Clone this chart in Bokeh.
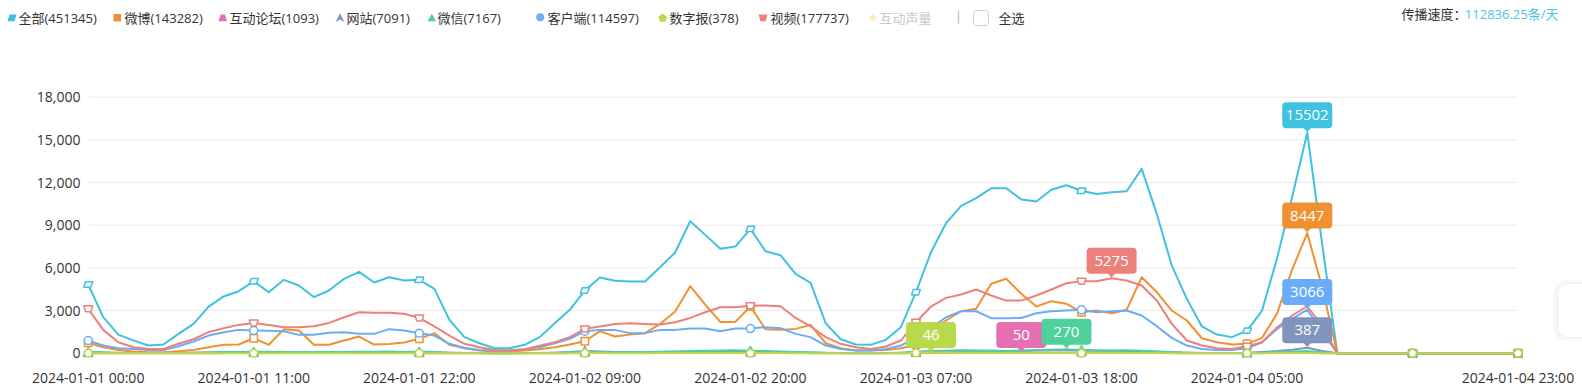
import math
import pandas as pd
from bokeh.plotting import figure
from bokeh.layouts import column
from bokeh.models import Range1d, FixedTicker, NumeralTickFormatter
from bokeh.core.properties import value
from bokeh.embed import file_html
from bokeh.resources import INLINE

# ---------------- data ----------------
hours = pd.date_range("2024-01-01 00:00", periods=96, freq="h").strftime("%Y-%m-%d %H:%M").tolist()
x_idx = list(range(len(hours)))
tick_idx = [0, 11, 22, 33, 44, 55, 66, 77, 95]
symbol_idx = [0, 11, 22, 33, 44, 55, 66, 77, 88, 95]
y_ticks = [0, 3000, 6000, 9000, 12000, 15000, 18000]

all_vals = [4830, 2530, 1310, 900, 540, 610, 1360, 2060, 3280, 3990,
            4360, 5060, 4290, 5160, 4760, 3940, 4410, 5230, 5720, 4970,
            5340, 5110, 5160, 4520, 2340, 1130, 700, 350, 350, 590,
            1130, 2110, 3050, 4410, 5320, 5090, 5040, 5040, 6050, 7080,
            9280, 8320, 7340, 7500, 8740, 7170, 6890, 5580, 4950, 2110,
            985, 610, 590, 940, 1830, 4290, 7100, 9140, 10360, 10900,
            11600, 11600, 10810, 10670, 11490, 11810, 11420, 11200, 11320, 11390,
            12960, 9800, 6160, 3820, 1880, 1310, 1130, 1590, 3000, 6700,
            11000, 15502, 7600] + [0] * 13
weibo_vals = [730, 420, 230, 120, 70, 70, 140, 230, 420, 590,
              610, 1050, 590, 1690, 1590, 590, 590, 890, 1170, 610,
              650, 750, 1010, 1410, 590, 350, 190, 120, 120, 190,
              280, 420, 610, 840, 1550, 1170, 1310, 1410, 2060, 2930,
              4710, 3420, 2200, 2200, 3280, 1690, 1640, 1710, 1990, 700,
              350, 190, 190, 230, 350, 600, 1600, 2300, 2950, 3120,
              4880, 5230, 4180, 3280, 3660, 3470, 2880, 3000, 2810, 3050,
              5340, 4300, 3000, 2300, 1050, 770, 610, 660, 1080, 2800,
              5900, 8447, 4600] + [0] * 13
forum_vals = [5, 3, 2, 1, 0, 0, 1, 2, 4, 6,
              8, 10, 9, 8, 7, 6, 8, 10, 12, 10,
              9, 8, 7, 5, 3, 2, 1, 0, 0, 1,
              2, 4, 8, 14, 12, 10, 9, 9, 12, 15,
              18, 20, 22, 20, 18, 15, 12, 9, 6, 3,
              2, 1, 1, 2, 4, 10, 20, 28, 32, 38,
              42, 46, 50, 44, 40, 38, 35, 33, 30, 28,
              25, 18, 10, 5, 3, 2, 2, 4, 8, 14,
              20, 25, 10] + [0] * 13
web_vals = [60, 40, 20, 10, 10, 10, 20, 30, 50, 60,
            70, 80, 70, 60, 50, 50, 60, 70, 80, 90,
            100, 90, 80, 60, 30, 20, 10, 5, 5, 10,
            20, 40, 80, 160, 120, 90, 80, 70, 80, 100,
            110, 100, 120, 130, 110, 100, 80, 60, 40, 20,
            10, 5, 5, 10, 30, 80, 150, 180, 200, 190,
            170, 160, 180, 200, 220, 210, 190, 180, 170, 160,
            150, 100, 60, 30, 15, 10, 10, 30, 80, 150,
            250, 387, 150] + [0] * 13
wechat_vals = [100, 60, 30, 20, 10, 10, 20, 40, 60, 80,
               90, 110, 100, 90, 80, 70, 80, 90, 100, 110,
               100, 90, 120, 80, 40, 20, 10, 5, 5, 10,
               20, 40, 60, 90, 80, 70, 70, 80, 100, 120,
               150, 170, 190, 200, 180, 150, 120, 90, 60, 30,
               15, 10, 10, 20, 40, 80, 120, 140, 150, 160,
               170, 160, 180, 220, 250, 270, 230, 200, 190, 210,
               180, 120, 60, 30, 15, 10, 10, 20, 40, 80,
               120, 150, 60] + [0] * 13
client_vals = [890, 540, 350, 300, 230, 230, 490, 820, 1240, 1480,
               1640, 1590, 1570, 1550, 1290, 1290, 1430, 1480, 1360, 1360,
               1690, 1590, 1410, 1240, 660, 380, 230, 190, 190, 280,
               420, 700, 1010, 1550, 1640, 1640, 1410, 1410, 1640, 1640,
               1730, 1730, 1550, 1730, 1730, 1830, 1760, 1360, 1130, 540,
               300, 190, 190, 300, 540, 1125, 1790, 2530, 2950, 2950,
               2460, 2460, 2480, 2810, 2950, 3000, 3050, 2880, 2950, 3000,
               2650, 1900, 1080, 540, 300, 230, 230, 350, 770, 1710,
               2410, 3066, 1500] + [0] * 13
paper_vals = [2, 1, 1, 0, 0, 0, 0, 1, 2, 3,
              4, 5, 5, 4, 4, 3, 3, 4, 5, 4,
              4, 3, 3, 2, 1, 1, 0, 0, 0, 0,
              1, 2, 4, 8, 6, 5, 5, 5, 6, 7,
              8, 8, 9, 9, 8, 7, 6, 5, 3, 2,
              1, 1, 0, 1, 3, 20, 46, 30, 20, 15,
              12, 10, 10, 10, 12, 14, 12, 10, 9, 9,
              8, 6, 4, 2, 1, 1, 1, 2, 4, 6,
              8, 10, 4] + [0] * 13
video_vals = [3120, 1640, 770, 420, 300, 300, 660, 980, 1480, 1760,
              1990, 2130, 1990, 1830, 1830, 1900, 2130, 2530, 2880, 2840,
              2840, 2770, 2480, 1880, 1240, 660, 420, 230, 190, 280,
              520, 770, 1130, 1710, 1880, 2060, 2110, 2060, 2020, 2180,
              2480, 2880, 3230, 3230, 3330, 3350, 3300, 2480, 1880, 1130,
              660, 420, 300, 470, 890, 2180, 3280, 3890, 4130, 4480,
              4060, 3700, 3700, 4060, 4480, 4920, 5060, 5060, 5275, 5110,
              4760, 3700, 2060, 890, 540, 350, 300, 490, 770, 1830,
              2650, 3300, 1900] + [0] * 13

series_names = ["全部", "微博", "互动论坛", "网站", "微信", "客户端", "数字报", "视频"]
series_totals = [451345, 143282, 1093, 7091, 7167, 114597, 378, 177737]
series_colors = ["#3fc1e0", "#ef9031", "#e570b1", "#8194be", "#4fd19c", "#6aacf8", "#b9d84b", "#ec817b"]
series_values = [all_vals, weibo_vals, forum_vals, web_vals, wechat_vals, client_vals, paper_vals, video_vals]
speed_text = "112836.25条/天"

# ---------------- geometry (pixels, page = canvas; Bokeh page has no body margin) ----------------
FONT = "Open Sans, Noto Sans CJK SC"
PAGE_W = 1582
PX_HOUR = 15.05          # px per hour
X0_PAGE = 87.7           # page x of first category
Y0_PAGE = 352.7          # page y of value 0
PX_UNIT = 256.0 / 18000  # px per unit
FRAME_L, FRAME_R = 82, PAGE_W
FRAME_T, FRAME_B = 84, 359
MAIN_TOP = 32
PAGE_BOTTOM = 390

def dx(px):
    return px / PX_HOUR

def dy(px):
    return px / PX_UNIT

# ---------------- legend strip ----------------
leg = figure(width=PAGE_W, height=MAIN_TOP, x_range=Range1d(0, PAGE_W), y_range=Range1d(MAIN_TOP, 0),
             x_axis_location=None, y_axis_location=None,
             output_backend="svg", toolbar_location=None, min_border=0)
leg.frame_align = False
leg.grid.visible = False
leg.outline_line_color = None

icon_x = [7, 113, 218, 335, 427, 536, 658, 758, 868]
text_x = [18, 124, 229, 346, 437, 547, 669, 770, 879]
icon_shapes = [
    [(0, 20.7), (2, 14), (9, 14), (7, 20.7)],
    [(0, 13.5), (7.5, 13.5), (7.5, 21), (0, 21)],
    [(0, 20.7), (2, 14), (6.5, 14), (8.5, 20.7)],
    [(4.5, 12.7), (9, 21.7), (4.5, 19), (0, 21.7)],
    [(4.3, 13.3), (8.7, 20.7), (0, 20.7)],
    None,
    [(4.2 + 4.6 * math.cos(math.radians(a)), 17.6 + 4.6 * math.sin(math.radians(a))) for a in (-90, -18, 54, 126, 198)],
    [(0, 14), (9, 14), (7, 20.7), (2, 20.7)],
    [(4.3, 12.7), (8.6, 17.2), (4.3, 21.7), (0, 17.2)],
]
legend_labels = [f"{n}({t})" for n, t in zip(series_names, series_totals)] + ["互动声量"]
legend_colors = series_colors + ["#fcefc7"]
for k, shape in enumerate(icon_shapes):
    if shape is None:
        leg.scatter([icon_x[k] + 3.7], [16.8], marker="circle", size=8, fill_color=legend_colors[k], line_color=None)
    else:
        leg.patch([icon_x[k] + px for px, py in shape], [py for px, py in shape],
                  fill_color=legend_colors[k], line_color=None)
leg.text(x=text_x, y=[17.5] * len(text_x), text=legend_labels,
         text_color=["#333333"] * 8 + ["#c8c8c8"], text_font=value(FONT), text_font_size="13px",
         text_baseline="middle", text_align="left")
leg.segment(x0=[958], y0=[10], x1=[958], y1=[23], line_color="#c8c8c8", line_width=1.5)
leg.quad(left=[973], right=[988], top=[10], bottom=[25], fill_color="white", line_color="#cfcfcf",
         line_width=1, border_radius=3)
leg.text(x=[998], y=[17.5], text=["全选"], text_color="#333333", text_font=value(FONT),
         text_font_size="13px", text_baseline="middle")
leg.text(x=[1466], y=[13], text=["传播速度："], text_color="#333333", text_font=value(FONT),
         text_font_size="13px", text_baseline="middle", text_align="right")
leg.text(x=[1558], y=[13], text=[speed_text], text_color="#4cc3e6", text_font=value(FONT),
         text_font_size="13px", text_baseline="middle", text_align="right")

# ---------------- main chart ----------------
main_h = PAGE_BOTTOM - MAIN_TOP
p = figure(width=PAGE_W, height=main_h,
           x_range=Range1d((FRAME_L - X0_PAGE) / PX_HOUR, (FRAME_R - X0_PAGE) / PX_HOUR),
           y_range=Range1d(-(FRAME_B - Y0_PAGE) / PX_UNIT, (Y0_PAGE - FRAME_T) / PX_UNIT),
           min_border_left=FRAME_L, min_border_right=0,
           min_border_top=FRAME_T - MAIN_TOP, min_border_bottom=PAGE_BOTTOM - FRAME_B,
           output_backend="svg", toolbar_location=None)
p.frame_align = False
p.outline_line_color = None
p.grid.visible = False

p.xaxis.ticker = FixedTicker(ticks=tick_idx)
p.xaxis.major_label_overrides = {i: hours[i] for i in tick_idx}
p.yaxis.ticker = FixedTicker(ticks=y_ticks)
p.yaxis.formatter = NumeralTickFormatter(format="0,0")
for ax in (p.xaxis, p.yaxis):
    ax.axis_line_color = None
    ax.major_tick_line_color = None
    ax.minor_tick_line_color = None
    ax.major_tick_out = 0
    ax.major_tick_in = 0
    ax.major_label_text_font = "Open Sans"
    ax.major_label_text_font_size = "14px"
    ax.major_label_text_color = "#333333"
p.xaxis.major_label_standoff = 8
p.yaxis.major_label_standoff = 2

# grid lines across the category span only
p.segment(x0=[x_idx[0]] * len(y_ticks), x1=[x_idx[-1]] * len(y_ticks), y0=y_ticks, y1=y_ticks,
          line_color="#ebebeb", line_width=1)

# floating side widget (partly off-screen)
p.quad(left=[dx(1553 - X0_PAGE)], right=[dx(1610 - X0_PAGE)], bottom=[dy(Y0_PAGE - 340)], top=[dy(Y0_PAGE - 280)],
       fill_color="#000000", fill_alpha=0.03, line_color=None, border_radius=12)
p.quad(left=[dx(1557 - X0_PAGE)], right=[dx(1610 - X0_PAGE)], bottom=[dy(Y0_PAGE - 337)], top=[dy(Y0_PAGE - 283)],
       fill_color="white", line_color="#ececec", line_width=1, border_radius=10)

marker_shapes = [
    [(-4.5, 2.7), (-2.5, -2.7), (4.5, -2.7), (2.5, 2.7)],     # parallelogram
    [(-3.7, -3.7), (3.7, -3.7), (3.7, 3.7), (-3.7, 3.7)],     # square
    [(-4.5, 3), (-2, -3), (2, -3), (4.5, 3)],                 # trapezoid
    [(0, -4.5), (4.5, 4.5), (0, 2), (-4.5, 4.5)],             # arrow
    [(0, -4.2), (4.5, 3.5), (-4.5, 3.5)],                     # triangle
    None,                                                      # circle
    [(4.5 * math.cos(math.radians(a)), 4.5 * math.sin(math.radians(a))) for a in (-90, -18, 54, 126, 198)],
    [(-4.5, -3), (4.5, -3), (2.5, 3), (-2.5, 3)],             # inverted trapezoid
]

draw_order = [0, 1, 2, 3, 4, 5, 7, 6]
for k in draw_order:
    vals = series_values[k]
    col = series_colors[k]
    p.line(x_idx, vals, line_color=col, line_width=2, line_join="round")
    sx = [x_idx[i] for i in symbol_idx]
    sy = [vals[i] for i in symbol_idx]
    if marker_shapes[k] is None:
        p.scatter(sx, sy, marker="circle", size=8, fill_color="white", line_color=col, line_width=1.5)
    else:
        xs = [[x + dx(px) for px, py in marker_shapes[k]] for x in sx]
        ys = [[y - dy(py) for px, py in marker_shapes[k]] for y in sy]
        p.patches(xs, ys, fill_color="white", line_color=col, line_width=1.5)

# max-value pins
for k in [0, 1, 5, 3, 7, 2, 4, 6]:
    vals = series_values[k]
    col = series_colors[k]
    vmax = max(vals)
    i = vals.index(vmax)
    x = x_idx[i]
    p.quad(left=[x - dx(25)], right=[x + dx(25)], bottom=[vmax + dy(4.5)], top=[vmax + dy(30.5)],
           fill_color=col, line_color=None, border_radius=4)
    p.patch([x - dx(4), x + dx(4), x], [vmax + dy(5), vmax + dy(5), vmax + dy(0.8)],
            fill_color=col, line_color=None)
    p.text(x=[x], y=[vmax + dy(17.5)], text=[str(vmax)], text_color="white", text_font=value("Open Sans"),
           text_font_size="15px", text_align="center", text_baseline="middle")

layout = column(leg, p, spacing=0)
open("out.html", "w").write(file_html(layout, INLINE))
